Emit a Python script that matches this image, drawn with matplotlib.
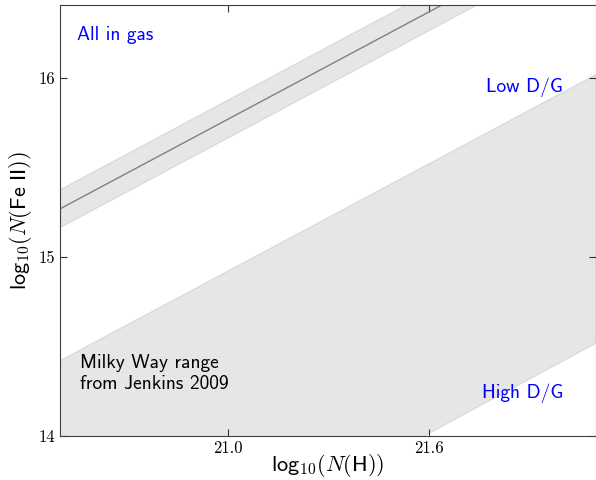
import matplotlib
matplotlib.use('Agg')
import matplotlib.pyplot as plt

plt.rcParams['mathtext.fontset'] = 'cm'
plt.rcParams['font.family'] = 'cmss10'
plt.rcParams['axes.unicode_minus'] = False

# column density grid (log10 N(H)) and the Fe II relations
log_nh = [20.5, 22.1]
fe_all_gas = [15.27, 16.87]
fe_all_gas_hi = [15.38, 16.98]
fe_all_gas_lo = [15.17, 16.77]
fe_low_dg = [14.42, 16.02]
fe_high_dg = [12.9, 14.52]

xticks = [21.0, 21.6]
yticks = [14, 15, 16]

fig = plt.figure(figsize=(5.96, 4.8), dpi=100)
ax = fig.add_axes([0.1007, 0.0917, 0.8993, 0.8979])

ax.fill_between(log_nh, fe_all_gas_lo, fe_all_gas_hi, facecolor='0.9',
                edgecolor='0.86', lw=1)
ax.plot(log_nh, fe_all_gas, color='0.5', lw=1)
ax.fill_between(log_nh, fe_high_dg, fe_low_dg, facecolor='0.9',
                edgecolor='0.86', lw=1)

ax.set_xlim(20.5, 22.1)
ax.set_ylim(14, 16.41)
ax.set_xticks(xticks)
ax.set_xticklabels(['%.1f' % t for t in xticks], fontfamily='cmr10', fontsize=12)
ax.set_yticks(yticks)
ax.set_yticklabels(['%d' % t for t in yticks], fontfamily='cmr10', fontsize=12)
ax.tick_params(direction='in', top=True, right=True, length=5, color='0.2')
for s in ax.spines.values():
    s.set_color('0.25')

ax.set_xlabel(r'$\mathsf{log}_{10}(N(\mathsf{H}))$', fontsize=16, labelpad=-3)
ax.set_ylabel(r'$\mathsf{log}_{10}(N(\mathsf{Fe\ II}))$', fontsize=16, labelpad=3)

ax.text(0.032, 0.93, 'All in gas', transform=ax.transAxes, color='blue',
        fontsize=14, va='center')
ax.text(0.938, 0.81, 'Low D/G', transform=ax.transAxes, color='blue',
        fontsize=14, va='center', ha='right')
ax.text(0.938, 0.10, 'High D/G', transform=ax.transAxes, color='blue',
        fontsize=14, va='center', ha='right')
ax.text(0.037, 0.145, 'Milky Way range\nfrom Jenkins 2009', transform=ax.transAxes,
        color='black', fontsize=14, va='center', linespacing=1.15)

fig.savefig('out.png', dpi=100)
